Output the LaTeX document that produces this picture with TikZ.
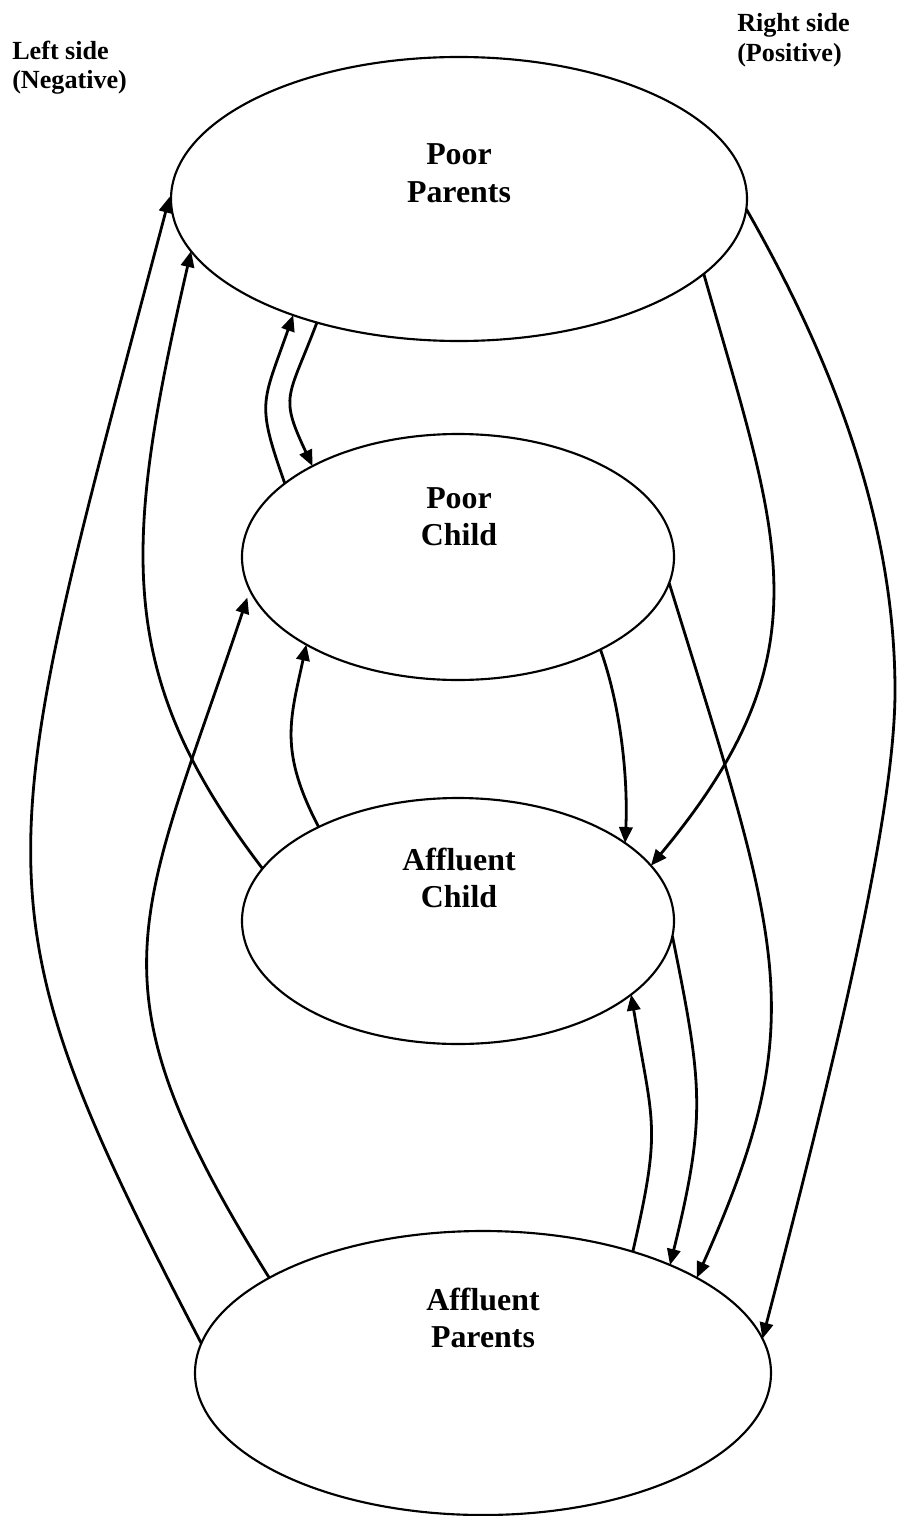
\documentclass[tikz,border=0pt]{standalone}
\usepackage{fontspec}
\setmainfont{Liberation Serif}
\usetikzlibrary{shapes.geometric,arrows.meta}
\tikzset{
  ell/.style={draw, ellipse, line width=1.6pt, inner sep=0pt, outer sep=0pt},
  bigell/.style={ell, minimum width=432pt, minimum height=213pt},
  smallell/.style={ell, minimum width=324pt, minimum height=184.5pt},
  arr/.style={line width=2.1pt, -{Triangle[length=12pt,width=10pt]}},
  ttl/.style={font=\fontsize{23.9}{27.75}\selectfont\bfseries, anchor=base, inner sep=0pt},
  side/.style={font=\fontsize{19.6}{22}\selectfont\bfseries, anchor=base west, inner sep=0pt}
}
\begin{document}
\begin{tikzpicture}[x=0.75pt,y=-0.75pt]
\useasboundingbox (0,0) rectangle (897,1516);
% ellipses
\node[bigell] (PP) at (459,199) {};
\node[smallell] (PC) at (458,557) {};
\node[smallell] (AC) at (458,921) {};
\node[bigell] (AP) at (483,1373) {};
% titles
\node[ttl] (pp1) at (459,165) {Poor};
\node[ttl] (pp2) at (459,202) {Parents};
\node[ttl] (pc1) at (459,508) {Poor};
\node[ttl] (pc2) at (459,545) {Child};
\node[ttl] (ac1) at (459,870) {Affluent};
\node[ttl] (ac2) at (459,907) {Child};
\node[ttl] (ap1) at (483,1310) {Affluent};
\node[ttl] (ap2) at (483,1347) {Parents};
% side labels
\node[side] (ls1) at (12,60) {Left side};
\node[side] (ls2) at (12,89) {(Negative)};
\node[side] (rs1) at (737,32) {Right side};
\node[side] (rs2) at (737,62) {(Positive)};
% left side arrows
\draw[arr, shorten >=6pt] (AP.174) .. controls (-31.5,897) and (-9,871) .. (PP.178);
\draw[arr] (AC.165) .. controls (112,672) and (124,543) .. (PP.191);
\draw[arr, shorten >=6pt] (AP.156) .. controls (83,980) and (138,925) .. (PC.189);
\draw[arr] (AC.146) .. controls (279,751) and (290,720) .. (PC.210);
\draw[arr] (PC.157) .. controls (256,402) and (262,404) .. (PP.215);
\draw[arr] (PP.221) .. controls (288,399) and (279,395) .. (PC.148);
% right side arrows
\draw[arr] (PP.358) .. controls (832,359) and (895,521) .. (895,691) .. controls (895,811) and (839,1046) .. (AP.7);
\draw[arr] (PP.343) .. controls (779,538) and (830,651) .. (AC.16);
\draw[arr] (PC.327) .. controls (622,710) and (628,783) .. (AC.25);
\draw[arr] (PC.353) .. controls (782,948) and (813,1018) .. (AP.24);
\draw[arr] (AP.39) .. controls (662,1125) and (653,1126) .. (AC.337);
\draw[arr] (AC.356) .. controls (702,1083) and (707,1115) .. (AP.30);
\end{tikzpicture}
\end{document}
